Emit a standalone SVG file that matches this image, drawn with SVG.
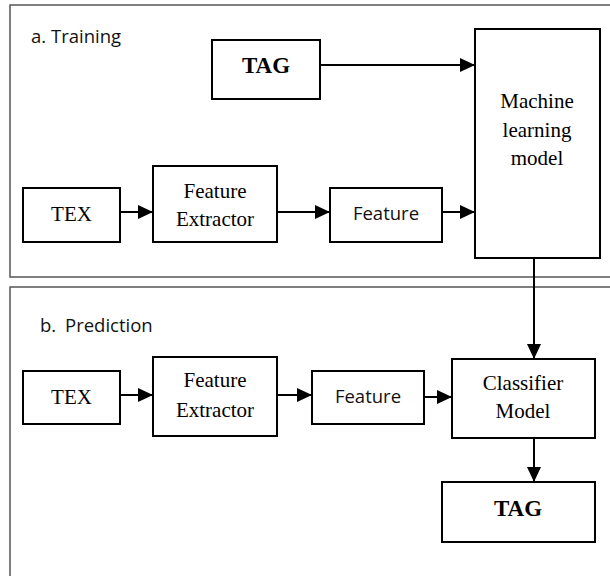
<svg xmlns="http://www.w3.org/2000/svg" width="610" height="576" viewBox="0 0 610 576">
  <style>
    .frame { fill: none; stroke: #555; stroke-width: 1.5; }
    .box { fill: #fff; stroke: #000; stroke-width: 2; }
    .serif { font-family: "Liberation Serif", "Times New Roman", serif; font-size: 21px; fill: #000; text-anchor: middle; }
    .tag { font-family: "Liberation Serif", "Times New Roman", serif; font-size: 23px; font-weight: bold; fill: #000; text-anchor: middle; }
    .sans { font-family: "Open Sans", "Liberation Sans", sans-serif; font-size: 18.5px; fill: #111; }
    .mid { text-anchor: middle; }
    .conn line { stroke: #000; stroke-width: 2; fill: none; }
  </style>
  <defs>
    <marker id="arrow" markerUnits="userSpaceOnUse" markerWidth="15" markerHeight="14" refX="15" refY="7" orient="auto">
      <path d="M0,0 L15,7 L0,14 Z" fill="#000"/>
    </marker>
  </defs>

  <rect width="610" height="576" fill="#fff"/>

  <!-- section frames -->
  <g id="frame-training">
    <rect class="frame" x="10" y="5" width="610" height="272"/>
    <text class="sans" x="31" y="43">a.</text>
    <text class="sans" x="51" y="43" font-size="19.5">Training</text>
  </g>
  <g id="frame-prediction">
    <rect class="frame" x="10" y="287" width="610" height="300"/>
    <text class="sans" x="40" y="332">b.</text>
    <text class="sans" x="65" y="332">Prediction</text>
  </g>

  <!-- connectors -->
  <g id="connectors" class="conn">
    <line x1="120" y1="212" x2="153" y2="212" marker-end="url(#arrow)"/>
    <line x1="277" y1="212" x2="330" y2="212" marker-end="url(#arrow)"/>
    <line x1="442" y1="212" x2="475" y2="212" marker-end="url(#arrow)"/>
    <line x1="320" y1="65" x2="475" y2="65" marker-end="url(#arrow)"/>
    <line x1="534" y1="258" x2="534" y2="359" marker-end="url(#arrow)"/>
    <line x1="120" y1="395" x2="153" y2="395" marker-end="url(#arrow)"/>
    <line x1="277" y1="395" x2="312" y2="395" marker-end="url(#arrow)"/>
    <line x1="418" y1="397" x2="452" y2="397" marker-end="url(#arrow)"/>
    <line x1="534" y1="438" x2="534" y2="482" marker-end="url(#arrow)"/>
  </g>

  <!-- training nodes -->
  <g id="tag-train">
    <rect class="box" x="212" y="40" width="108" height="59"/>
    <text class="tag" x="266" y="73">TAG</text>
  </g>
  <g id="tex-train">
    <rect class="box" x="23" y="188" width="97" height="54"/>
    <text class="serif" x="71.5" y="221">TEX</text>
  </g>
  <g id="extractor-train">
    <rect class="box" x="153" y="166" width="124" height="76"/>
    <text class="serif" x="215" y="198">Feature</text>
    <text class="serif" x="215" y="226">Extractor</text>
  </g>
  <g id="feature-train">
    <rect class="box" x="330" y="188" width="112" height="54"/>
    <text class="sans mid" x="386" y="220">Feature</text>
  </g>
  <g id="ml-model">
    <rect class="box" x="475" y="29" width="125" height="229"/>
    <text class="serif" x="537" y="108">Machine</text>
    <text class="serif" x="537" y="137">learning</text>
    <text class="serif" x="537" y="165">model</text>
  </g>

  <!-- prediction nodes -->
  <g id="tex-pred">
    <rect class="box" x="23" y="371" width="97" height="53"/>
    <text class="serif" x="71.5" y="404">TEX</text>
  </g>
  <g id="extractor-pred">
    <rect class="box" x="153" y="357" width="124" height="79"/>
    <text class="serif" x="215" y="387">Feature</text>
    <text class="serif" x="215" y="417">Extractor</text>
  </g>
  <g id="feature-pred">
    <rect class="box" x="312" y="371" width="112" height="53"/>
    <text class="sans mid" x="368" y="403">Feature</text>
  </g>
  <g id="classifier">
    <rect class="box" x="452" y="359" width="143" height="79"/>
    <text class="serif" x="523" y="390">Classifier</text>
    <text class="serif" x="523" y="418">Model</text>
  </g>
  <g id="tag-pred">
    <rect class="box" x="442" y="482" width="153" height="60"/>
    <text class="tag" x="518" y="516">TAG</text>
  </g>
</svg>
